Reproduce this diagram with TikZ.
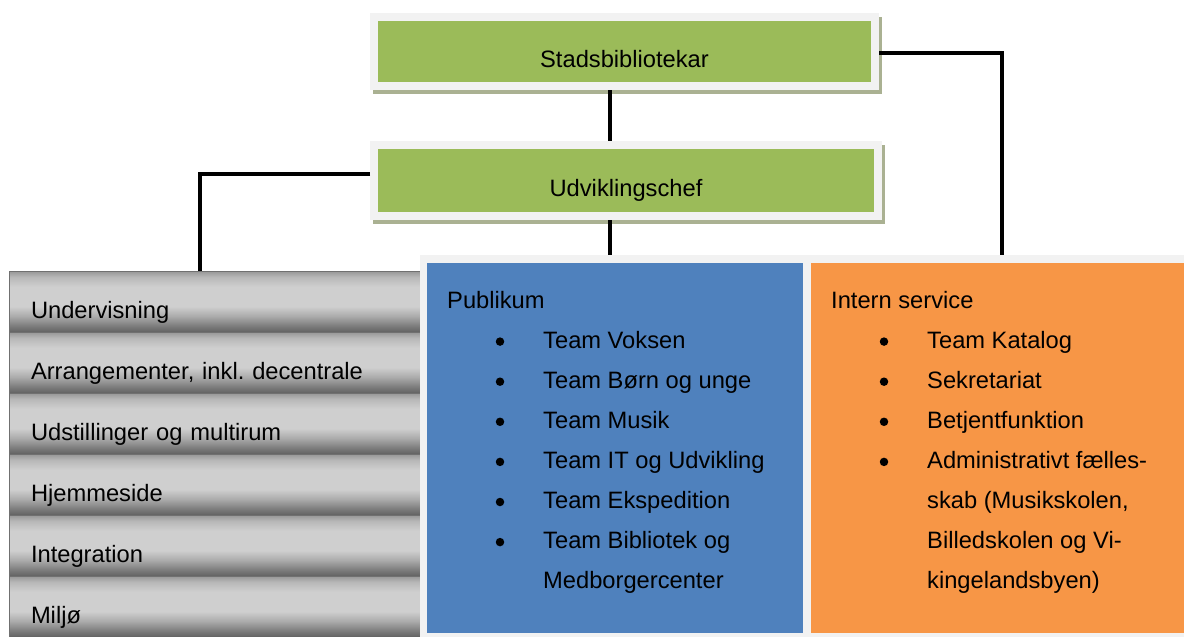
\documentclass[tikz,border=0pt]{standalone}
\usepackage{fontspec}
\setmainfont{Liberation Sans}
\definecolor{grn}{HTML}{9BBB59}
\definecolor{frm}{HTML}{F2F2F2}
\definecolor{shd}{HTML}{AAB192}
\definecolor{blu}{HTML}{4F81BD}
\definecolor{org}{HTML}{F79646}
\definecolor{gA}{HTML}{626262}
\definecolor{gA2}{HTML}{7C7C7C}
\definecolor{gA3}{HTML}{ABABAB}
\definecolor{gB}{HTML}{CFCFCF}
\definecolor{gC2}{HTML}{B8B8B8}
\definecolor{gC}{HTML}{969696}
\definecolor{gD}{HTML}{707070}
\pgfdeclareverticalshading{greyshade}{100bp}{color(0bp)=(gA); color(25bp)=(gA); color(30bp)=(gA2); color(38bp)=(gA3); color(46bp)=(gB); color(62bp)=(gB); color(70bp)=(gC2); color(75bp)=(gC); color(100bp)=(gC)}
\pgfdeclarelayer{bg}
\pgfsetlayers{bg,main}
\newcommand{\fs}{\fontsize{23.7}{28}\selectfont}
\begin{document}
\frenchspacing
\begin{tikzpicture}[x=1pt,y=-1pt,
  greenbox/.style={draw=frm, line width=8pt, fill=grn, inner sep=0pt, font=\fs, text height=31pt, text depth=0pt},
  link/.style={draw=black, line width=3.3pt},
  rowbox/.style={draw=gD, line width=1pt, shading=greyshade, minimum width=411pt, minimum height=61pt, text width=367pt, inner xsep=22pt, inner ysep=0pt, align=left, font=\fs, text height=33pt, text depth=0pt},
  panel/.style={inner sep=0pt, minimum height=370pt},
  txt/.style={font=\fs, inner sep=0pt, anchor=base west},
  bul/.style={circle, fill=black, inner sep=0pt, minimum size=8.5pt}
]
\useasboundingbox (0,0) rectangle (1184,637);

% top boxes
\node[greenbox, minimum width=501pt, minimum height=69pt] (stad) at (624.5,51.5) {Stadsbibliotekar};
\node[greenbox, minimum width=504pt, minimum height=71pt] (udv) at (626,180.5) {Udviklingschef};
\begin{pgfonlayer}{bg}
\fill[shd] ([shift={(3,4)}]stad.north west) rectangle ([shift={(3,4)}]stad.south east);
\fill[shd] ([shift={(3,4)}]udv.north west) rectangle ([shift={(3,4)}]udv.south east);
\end{pgfonlayer}

% left stack
\foreach \i/\lbl in {1/Undervisning, 2/{Arrangementer, inkl. decentrale}, 3/Udstillinger og multirum, 4/Hjemmeside, 5/Integration, 6/Miljø}{
  \node[rowbox] (row\i) at (214.5,{301.5+61*(\i-1)}) {\lbl};
}

% team panels
\node[fill=frm, inner sep=0pt, minimum width=764pt, minimum height=382pt] (frame) at (802,446) {};
\node[panel, fill=blu, minimum width=376pt] (pub) at (615,448) {};
\node[panel, fill=org, minimum width=373pt] (int) at (997.5,448) {};

\node[txt] (pub0) at (447,308) {Publikum};
\foreach \i/\lbl in {1/Team Voksen, 2/Team Børn og unge, 3/Team Musik, 4/Team IT og Udvikling, 5/Team Ekspedition, 6/Team Bibliotek og}{
  \node[txt] (pub\i) at (543,{308+40.1*\i}) {\lbl};
  \node[bul] (pubb\i) at (500,{301.5+40.1*\i}) {};
}
\node[txt] (pub7) at (543,{308+40.1*7}) {Medborgercenter};

\node[txt] (int0) at (831,308) {Intern service};
\foreach \i/\lbl in {1/Team Katalog, 2/Sekretariat, 3/Betjentfunktion, 4/Administrativt fælles-}{
  \node[txt] (int\i) at (927,{308+40.1*\i}) {\lbl};
  \node[bul] (intb\i) at (884,{301.5+40.1*\i}) {};
}
\node[txt] (int5) at (927,{308+40.1*5}) {skab (Musikskolen,};
\node[txt] (int6) at (927,{308+40.1*6}) {Billedskolen og Vi-};
\node[txt] (int7) at (927,{308+40.1*7}) {kingelandsbyen)};

% connectors
\coordinate (cx) at (610,0);
\coordinate (cl) at (200,0);
\coordinate (cr) at (1002,0);
\draw[link] (stad.south -| cx) -- (udv.north -| cx);
\draw[link] (udv.south -| cx) -- (frame.north -| cx);
\draw[link] ([yshift=6.5pt]udv.west) -| (row1.north -| cl);
\draw[link] ([yshift=-1.5pt]stad.east) -| (frame.north -| cr);
\end{tikzpicture}
\end{document}
